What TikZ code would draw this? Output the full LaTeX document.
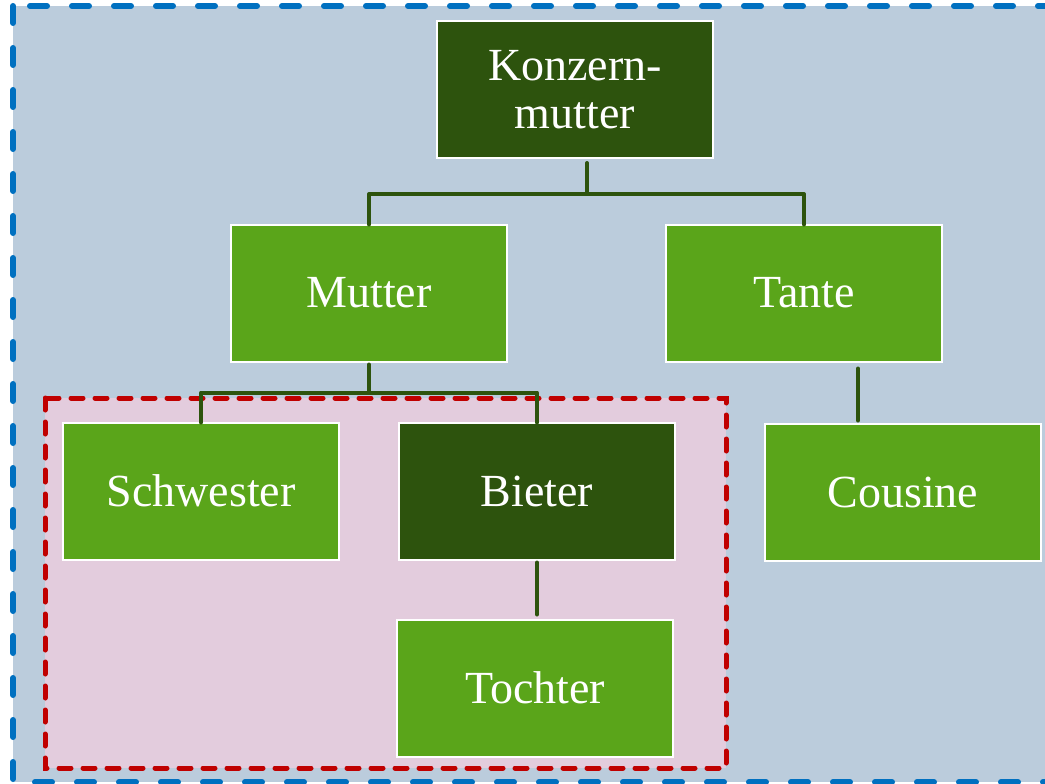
\documentclass[tikz,border=0pt]{standalone}
\usepackage{fontspec}
\setmainfont{Liberation Serif}
\definecolor{bgblue}{HTML}{BBCCDC}
\definecolor{frameblue}{HTML}{0070C0}
\definecolor{framered}{HTML}{C00000}
\definecolor{pinkfill}{HTML}{E3CCDD}
\definecolor{lightgreen}{HTML}{5AA51A}
\definecolor{darkgreen}{HTML}{2D530D}
\tikzset{
  box/.style={draw=white, line width=2pt, minimum width=276pt, minimum height=137pt,
    inner sep=0pt, text=white, align=center, font=\fontsize{46}{48}\selectfont},
  lightbox/.style={box, fill=lightgreen},
  darkbox/.style={box, fill=darkgreen},
  conn/.style={draw=darkgreen, line width=4pt, line cap=round, line join=round},
  blueframe/.style={draw=frameblue, fill=bgblue, line width=6pt, line cap=round, dash pattern=on 17pt off 25pt},
  redframe/.style={draw=framered, fill=pinkfill, line width=5pt, line cap=round, dash pattern=on 12pt off 12pt}
}
\begin{document}
\begin{tikzpicture}[x=1pt,y=-1pt]
\clip (0,0) rectangle (1045,784);
\fill[white] (0,0) rectangle (1045,784);
\draw[blueframe] (13,6) rectangle (1060,782);
\draw[redframe] (45,398) rectangle (726,768);

\node[darkbox]  (K) at (575,89.5) {Konzern-\\mutter};
\node[lightbox] (M) at (369,293) {Mutter};
\node[lightbox] (T) at (804,293) {Tante};
\node[lightbox] (S) at (201,491) {Schwester};
\node[darkbox]  (B) at (537,491) {Bieter};
\node[lightbox] (C) at (903,492) {Cousine};
\node[lightbox] (D) at (535,688) {Tochter};

\coordinate (kj) at ([xshift=12pt,yshift=-35pt]K.south);
\draw[conn] ([xshift=12pt,yshift=-4pt]K.south) -- (kj) -| ([yshift=-1pt]M.north);
\draw[conn] (kj) -| ([yshift=-1pt]T.north);

\coordinate (mj) at ([yshift=-30pt]M.south);
\draw[conn] ([yshift=-2pt]M.south) -- (mj) -| ([yshift=-1pt]S.north);
\draw[conn] (mj) -| ([yshift=-1pt]B.north);

\draw[conn] ([xshift=54pt,yshift=-6pt]T.south) -- ([xshift=-45pt,yshift=2pt]C.north);
\draw[conn] ([yshift=-2pt]B.south) -- ([xshift=2pt,yshift=4pt]D.north);
\end{tikzpicture}
\end{document}
